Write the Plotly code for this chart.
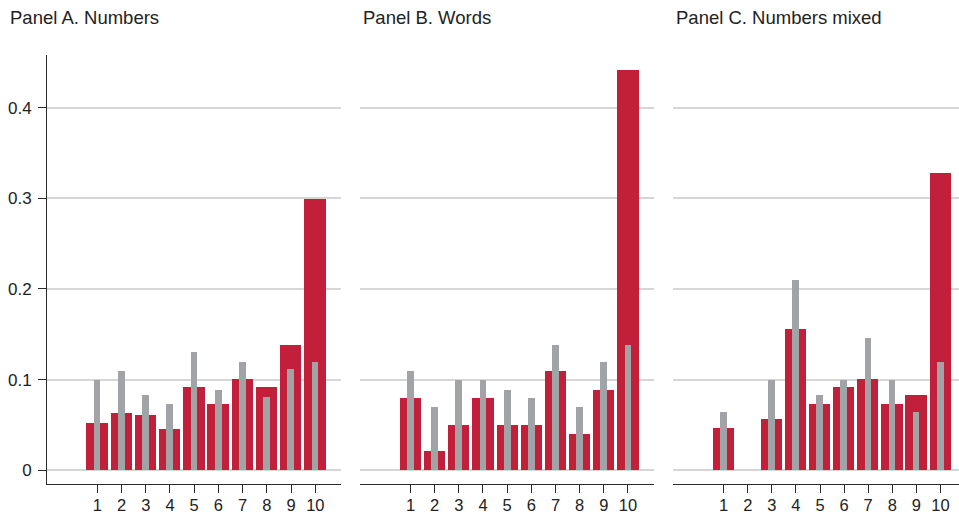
import plotly.graph_objects as go

# Response categories on the x axis
categories = list(range(1, 11))
tick_labels = [str(c) for c in categories]

# Observed shares (red) and comparison shares (gray) per panel
numbers_observed = [0.0525, 0.0635, 0.0605, 0.045, 0.0915, 0.0735, 0.101, 0.0915, 0.138, 0.299]
numbers_comparison = [0.099, 0.109, 0.083, 0.073, 0.130, 0.089, 0.1195, 0.081, 0.112, 0.1195]

words_observed = [0.080, 0.021, 0.050, 0.080, 0.050, 0.050, 0.109, 0.0405, 0.089, 0.442]
words_comparison = [0.109, 0.0695, 0.100, 0.100, 0.089, 0.080, 0.1385, 0.0695, 0.119, 0.1385]

mixed_observed = [0.0465, 0.0, 0.056, 0.1555, 0.0735, 0.092, 0.101, 0.0735, 0.083, 0.328]
mixed_comparison = [0.0645, 0.0, 0.100, 0.210, 0.083, 0.100, 0.146, 0.100, 0.0645, 0.119]

panel_titles = ["Panel A. Numbers", "Panel B. Words", "Panel C. Numbers mixed"]
y_ticks = [0, 0.1, 0.2, 0.3, 0.4]
y_tick_text = ["0", "0.1", "0.2", "0.3", "0.4"]

RED = "#C11F3A"
GRAY = "#A2A3A7"
GRID = "#D6D6D6"
AXIS = "#2B2B2B"
FONT = "Liberation Sans, Arial, Helvetica, sans-serif"

W, H = 959, 515
MT, MB = 55, 31

panels = [
    (numbers_observed, numbers_comparison),
    (words_observed, words_comparison),
    (mixed_observed, mixed_comparison),
]
# Horizontal extents in pixels, and x ranges per panel
x_pixels = [(47.3, 341.0), (360.0, 654.3), (673.3, 959.0)]
x_ranges = [[-1.065, 11.06], [-1.09, 11.09], [-1.09, 10.77]]

fig = go.Figure()

for i, (obs, comp) in enumerate(panels):
    suffix = "" if i == 0 else str(i + 1)
    xa = "x" + suffix
    ya = "y" + suffix
    fig.add_trace(go.Bar(
        x=categories, y=obs, width=0.88,
        marker=dict(color=RED, line=dict(width=0)),
        xaxis=xa, yaxis=ya, showlegend=False,
    ))
    fig.add_trace(go.Bar(
        x=categories, y=comp, width=0.28,
        marker=dict(color=GRAY, line=dict(width=0)),
        xaxis=xa, yaxis=ya, showlegend=False,
    ))

    x0, x1 = x_pixels[i]
    fig.layout["xaxis" + suffix] = dict(
        domain=[x0 / W, x1 / W],
        range=x_ranges[i],
        anchor=ya,
        tickmode="array", tickvals=categories, ticktext=tick_labels,
        ticks="outside", ticklen=8, tickwidth=1.3, tickcolor=AXIS,
        showline=True, linecolor=AXIS, linewidth=1.3,
        showgrid=False, zeroline=False,
        tickfont=dict(family=FONT, size=16.5, color="#222"),
        ticklabelstandoff=-2,
        automargin=False, fixedrange=True,
    )
    fig.layout["yaxis" + suffix] = dict(
        domain=[0, 1],
        range=[-0.0152, 0.458],
        anchor=xa,
        tickmode="array", tickvals=y_ticks, ticktext=y_tick_text,
        showticklabels=(i == 0),
        ticks="outside" if i == 0 else "",
        ticklen=8, tickwidth=1.3, tickcolor=AXIS,
        showline=(i == 0), linecolor=AXIS, linewidth=1.3,
        showgrid=True, gridcolor=GRID, gridwidth=1.5,
        zeroline=False,
        tickfont=dict(family=FONT, size=17, color="#222"),
        ticklabelstandoff=3,
        automargin=False, fixedrange=True,
    )

    fig.add_annotation(
        text=panel_titles[i],
        xref="paper", yref="paper",
        x=[8, 361, 674][i] / W, y=1 + 37 / (H - MT - MB),
        xanchor="left", yanchor="middle",
        showarrow=False,
        font=dict(family=FONT, size=18.5, color="#222"),
    )

fig.update_layout(
    width=W, height=H,
    margin=dict(l=0, r=0, t=MT, b=MB),
    barmode="overlay",
    bargap=0,
    plot_bgcolor="white", paper_bgcolor="white",
)

fig.write_html("out.html", config={"displayModeBar": False})
